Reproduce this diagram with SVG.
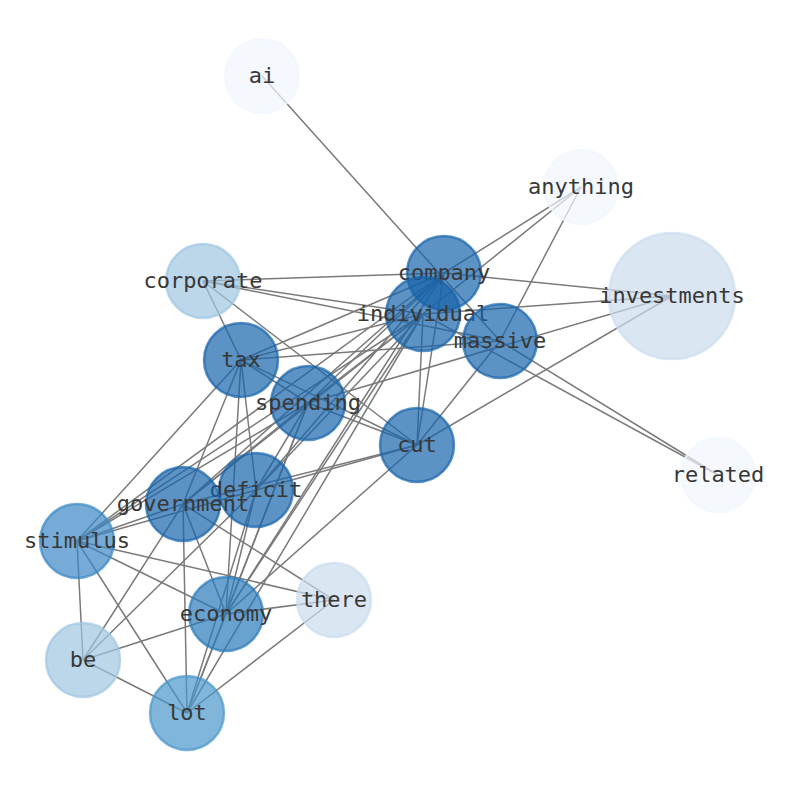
<svg xmlns="http://www.w3.org/2000/svg" width="794" height="790" viewBox="0 0 794 790">
<style>
.e{stroke:#7a7a7a;stroke-width:1.5;fill:none}
.n circle{stroke-width:2.5;fill-opacity:0.7;stroke-opacity:0.7}
.n text{font-family:"DejaVu Sans Mono","Liberation Mono",monospace;font-size:22px;fill:#383838;text-anchor:middle;dominant-baseline:central}
.d circle{fill:#1764ab;stroke:#1764ab}
.m circle{fill:#2a7ab9;stroke:#2a7ab9}
.s circle{fill:#3a88c5;stroke:#3a88c5}
.l circle{fill:#4997cb;stroke:#4997cb}
.p circle{fill:#9fc6e1;stroke:#9fc6e1}
.q circle{fill:#ccdbee;stroke:#ccdbee}
.w circle{fill:#f1f6fe;stroke:#f1f6fe}
</style>
<rect width="794" height="790" fill="#fff"/>
<g id="edges">
<line class="e" x1="262" y1="76" x2="500" y2="341"/>
<line class="e" x1="581" y1="187" x2="444" y2="273"/>
<line class="e" x1="581" y1="187" x2="423" y2="314"/>
<line class="e" x1="581" y1="187" x2="500" y2="341"/>
<line class="e" x1="203" y1="281" x2="444" y2="273"/>
<line class="e" x1="203" y1="281" x2="423" y2="314"/>
<line class="e" x1="203" y1="281" x2="500" y2="341"/>
<line class="e" x1="203" y1="281" x2="241" y2="360"/>
<line class="e" x1="203" y1="281" x2="417" y2="445"/>
<line class="e" x1="672" y1="296" x2="444" y2="273"/>
<line class="e" x1="672" y1="296" x2="423" y2="314"/>
<line class="e" x1="672" y1="296" x2="308" y2="403"/>
<line class="e" x1="672" y1="296" x2="417" y2="445"/>
<line class="e" x1="718" y1="475" x2="500" y2="341"/>
<line class="e" x1="718" y1="475" x2="423" y2="314"/>
<line class="e" x1="444" y1="273" x2="241" y2="360"/>
<line class="e" x1="444" y1="273" x2="308" y2="403"/>
<line class="e" x1="444" y1="273" x2="183" y2="504"/>
<line class="e" x1="444" y1="273" x2="256" y2="490"/>
<line class="e" x1="444" y1="273" x2="226" y2="614"/>
<line class="e" x1="444" y1="273" x2="77" y2="541"/>
<line class="e" x1="444" y1="273" x2="417" y2="445"/>
<line class="e" x1="423" y1="314" x2="241" y2="360"/>
<line class="e" x1="423" y1="314" x2="308" y2="403"/>
<line class="e" x1="423" y1="314" x2="183" y2="504"/>
<line class="e" x1="423" y1="314" x2="256" y2="490"/>
<line class="e" x1="423" y1="314" x2="226" y2="614"/>
<line class="e" x1="423" y1="314" x2="187" y2="713"/>
<line class="e" x1="423" y1="314" x2="417" y2="445"/>
<line class="e" x1="423" y1="314" x2="77" y2="541"/>
<line class="e" x1="500" y1="341" x2="241" y2="360"/>
<line class="e" x1="500" y1="341" x2="417" y2="445"/>
<line class="e" x1="241" y1="360" x2="308" y2="403"/>
<line class="e" x1="241" y1="360" x2="417" y2="445"/>
<line class="e" x1="241" y1="360" x2="256" y2="490"/>
<line class="e" x1="241" y1="360" x2="183" y2="504"/>
<line class="e" x1="241" y1="360" x2="226" y2="614"/>
<line class="e" x1="241" y1="360" x2="77" y2="541"/>
<line class="e" x1="308" y1="403" x2="417" y2="445"/>
<line class="e" x1="308" y1="403" x2="183" y2="504"/>
<line class="e" x1="308" y1="403" x2="256" y2="490"/>
<line class="e" x1="308" y1="403" x2="226" y2="614"/>
<line class="e" x1="308" y1="403" x2="187" y2="713"/>
<line class="e" x1="308" y1="403" x2="77" y2="541"/>
<line class="e" x1="417" y1="445" x2="256" y2="490"/>
<line class="e" x1="417" y1="445" x2="183" y2="504"/>
<line class="e" x1="417" y1="445" x2="226" y2="614"/>
<line class="e" x1="256" y1="490" x2="226" y2="614"/>
<line class="e" x1="256" y1="490" x2="187" y2="713"/>
<line class="e" x1="256" y1="490" x2="83" y2="660"/>
<line class="e" x1="256" y1="490" x2="77" y2="541"/>
<line class="e" x1="183" y1="504" x2="77" y2="541"/>
<line class="e" x1="183" y1="504" x2="226" y2="614"/>
<line class="e" x1="183" y1="504" x2="187" y2="713"/>
<line class="e" x1="183" y1="504" x2="83" y2="660"/>
<line class="e" x1="183" y1="504" x2="334" y2="600"/>
<line class="e" x1="77" y1="541" x2="226" y2="614"/>
<line class="e" x1="77" y1="541" x2="334" y2="600"/>
<line class="e" x1="77" y1="541" x2="83" y2="660"/>
<line class="e" x1="77" y1="541" x2="187" y2="713"/>
<line class="e" x1="226" y1="614" x2="334" y2="600"/>
<line class="e" x1="226" y1="614" x2="83" y2="660"/>
<line class="e" x1="226" y1="614" x2="187" y2="713"/>
<line class="e" x1="187" y1="713" x2="334" y2="600"/>
<line class="e" x1="187" y1="713" x2="83" y2="660"/>
</g>
<g id="node-ai" class="n w"><circle cx="262" cy="76" r="37"/><text x="262" y="75">ai</text></g>
<g id="node-anything" class="n w"><circle cx="581" cy="187" r="37"/><text x="581" y="186">anything</text></g>
<g id="node-related" class="n w"><circle cx="718" cy="475" r="37"/><text x="718" y="474">related</text></g>
<g id="node-investments" class="n q"><circle cx="672" cy="296" r="63"/><text x="672" y="295">investments</text></g>
<g id="node-there" class="n q"><circle cx="334" cy="600" r="37"/><text x="334" y="599">there</text></g>
<g id="node-corporate" class="n p"><circle cx="203" cy="281" r="37"/><text x="203" y="280">corporate</text></g>
<g id="node-be" class="n p"><circle cx="83" cy="660" r="37"/><text x="83" y="659">be</text></g>
<g id="node-lot" class="n l"><circle cx="187" cy="713" r="37"/><text x="187" y="712">lot</text></g>
<g id="node-stimulus" class="n s"><circle cx="77" cy="541" r="37"/><text x="77" y="540">stimulus</text></g>
<g id="node-economy" class="n m"><circle cx="226" cy="614" r="37"/><text x="226" y="613">economy</text></g>
<g id="node-company" class="n d"><circle cx="444" cy="273" r="37"/><text x="444" y="272">company</text></g>
<g id="node-individual" class="n d"><circle cx="423" cy="314" r="37"/><text x="423" y="313">individual</text></g>
<g id="node-massive" class="n d"><circle cx="500" cy="341" r="37"/><text x="500" y="340">massive</text></g>
<g id="node-tax" class="n d"><circle cx="241" cy="360" r="37"/><text x="241" y="359">tax</text></g>
<g id="node-spending" class="n d"><circle cx="308" cy="403" r="37"/><text x="308" y="402">spending</text></g>
<g id="node-cut" class="n d"><circle cx="417" cy="445" r="37"/><text x="417" y="444">cut</text></g>
<g id="node-deficit" class="n d"><circle cx="256" cy="490" r="37"/><text x="256" y="489">deficit</text></g>
<g id="node-government" class="n d"><circle cx="183" cy="504" r="37"/><text x="183" y="503">government</text></g>
</svg>
